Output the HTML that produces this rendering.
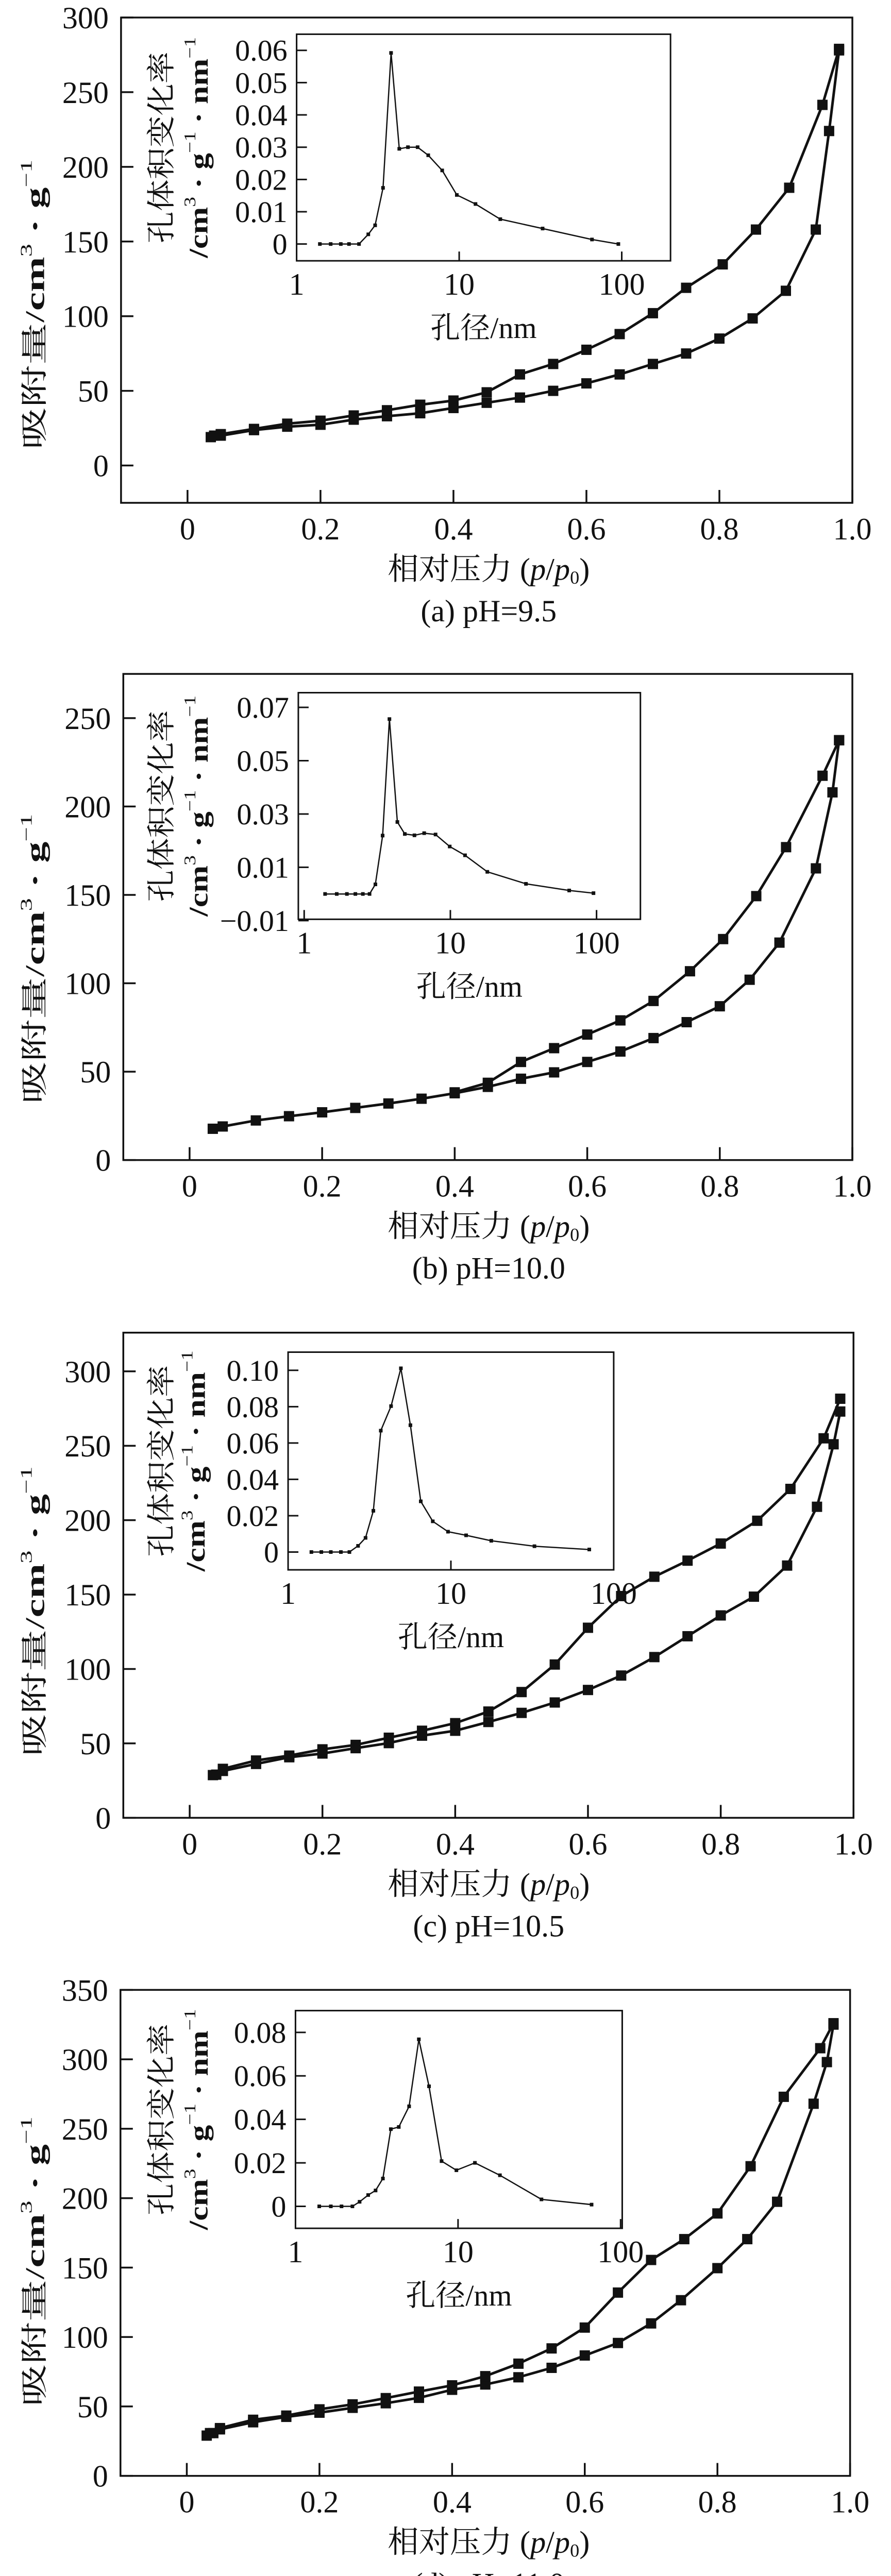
<!DOCTYPE html>
<html><head><meta charset="utf-8">
<style>
html,body{margin:0;padding:0;background:#fff;overflow:hidden;width:1729px;height:5064px;}
svg{display:block;}
text{font-family:"Liberation Serif","Noto Serif CJK SC","Noto Sans CJK SC",serif;fill:#111;}
</style></head>
<body>
<svg id="fig" xmlns="http://www.w3.org/2000/svg" width="1729" height="5064" viewBox="0 0 1729 5064" overflow="hidden"></svg>
<script>
// ---------- data (panel a: pH=9.5) ----------
const aAdsX=[0.035,0.05,0.1,0.15,0.2,0.25,0.3,0.35,0.4,0.45,0.5,0.55,0.6,0.65,0.7,0.75,0.8,0.85,0.9,0.945,0.965,0.98];
const aAdsY=[19,20,23.7,26,27.3,30.7,33,35,38.5,42,45.5,50,55,61,68,75,85,98.5,117,158,224,278];
const aDesX=[0.98,0.955,0.905,0.855,0.805,0.75,0.7,0.65,0.6,0.55,0.5,0.45,0.4,0.35,0.3,0.25,0.2,0.15,0.1,0.05,0.04];
const aDesY=[279,241.5,186,158,134.7,119,102,88,77.5,68,61,49,43.5,40.7,37,33.5,30,28,24.5,21,20];
const aPoreD=[1.39,1.62,1.87,2.1,2.42,2.76,3.04,3.4,3.81,4.28,4.84,5.55,6.45,7.86,9.67,12.6,17.9,32.6,65.6,95.3];
const aPoreV=[0,0,0,0,0,0.003,0.0058,0.0174,0.0592,0.0295,0.030,0.030,0.0275,0.0228,0.0152,0.0124,0.0077,0.0048,0.0014,0];
// ---------- panel b: pH=10.0 ----------
const bAdsX=[0.035,0.05,0.1,0.15,0.2,0.25,0.3,0.35,0.4,0.45,0.5,0.55,0.6,0.65,0.7,0.75,0.8,0.845,0.89,0.945,0.97,0.98];
const bAdsY=[17.7,19,22.4,24.8,27,29.5,32,34.7,37.8,41.4,46,49.6,55.5,61.4,69,78,87,102,123,165,208,237.5];
const bDesX=[0.98,0.955,0.9,0.855,0.805,0.755,0.7,0.65,0.6,0.55,0.5,0.45,0.4];
const bDesY=[237.5,217.4,177,149.3,125,106.8,90,79,71,63.3,55.5,43.7,38.3];
const bPoreD=[1.39,1.67,1.96,2.24,2.52,2.8,3.07,3.44,3.83,4.34,4.88,5.68,6.62,7.92,9.9,12.6,17.9,32.9,65,95.3];
const bPoreV=[0,0,0,0,0,0,0.0036,0.0219,0.0656,0.027,0.0225,0.022,0.0228,0.0223,0.0178,0.0145,0.0083,0.0038,0.0013,0.0003];
// ---------- panel c: pH=10.5 ----------
const cAdsX=[0.035,0.05,0.1,0.15,0.2,0.25,0.3,0.35,0.4,0.45,0.5,0.55,0.6,0.65,0.7,0.75,0.8,0.85,0.9,0.945,0.97,0.98];
const cAdsY=[28.7,31.5,36.2,40.7,43.2,46.8,50.2,55.2,58.5,64.4,70.5,77.5,85.9,95.6,108,122,136,148.6,169.5,209,251,273];
const cDesX=[0.98,0.955,0.905,0.855,0.8,0.75,0.7,0.65,0.6,0.55,0.5,0.45,0.4,0.35,0.3,0.25,0.2,0.15,0.1,0.05,0.04];
const cDesY=[281.6,255,221,199.6,184.3,172.8,162,149,127.7,103,84.5,71.4,63.6,58.5,53.8,49,46,41.8,38.5,32.9,29];
const cPoreD=[1.39,1.6,1.83,2.11,2.38,2.69,2.99,3.34,3.71,4.29,4.93,5.64,6.53,7.74,9.6,12.4,17.7,32.6,70.8];
const cPoreV=[0,0,0,0,0,0.0034,0.0078,0.0227,0.0668,0.0803,0.1011,0.0698,0.0279,0.0169,0.0112,0.0092,0.0062,0.0032,0.0014];
// ---------- panel d: pH=11.0 ----------
const dAdsX=[0.03,0.04,0.05,0.1,0.15,0.2,0.25,0.3,0.35,0.4,0.45,0.5,0.55,0.6,0.65,0.7,0.745,0.8,0.845,0.89,0.945,0.965,0.975];
const dAdsY=[29,30.8,33.5,38.6,42.5,45.5,49,52.3,56.2,62,65.8,71,77.8,86.7,95.7,109.8,126.5,149.6,170.5,197.4,268,298,325];
const dDesX=[0.975,0.955,0.9,0.85,0.8,0.75,0.7,0.65,0.6,0.55,0.5,0.45,0.4,0.35,0.3,0.25,0.2,0.15,0.1,0.05,0.035];
const dDesY=[326,308,273,223,189,170.5,155.5,132,106.8,91.8,80.8,71.8,65.2,60.7,56,51.5,47.9,43.4,40.4,34.4,30.8];
const dPoreD=[1.4,1.65,1.92,2.24,2.48,2.8,3.11,3.45,3.86,4.32,5.0,5.74,6.63,7.92,9.77,12.7,18.1,32.6,66.3];
const dPoreV=[0,0,0,0,0.0021,0.0052,0.0073,0.0128,0.0355,0.0365,0.046,0.0768,0.0552,0.0208,0.0166,0.0200,0.0143,0.0032,0.0008];
// ---------- tick labels ----------
const xTicks=[0,0.2,0.4,0.6,0.8,1.0];
const xTickLabels=["0","0.2","0.4","0.6","0.8","1.0"];
const aYTicks=[0,50,100,150,200,250,300];
const bYTicks=[0,50,100,150,200,250];
const cYTicks=[0,50,100,150,200,250,300];
const dYTicks=[0,50,100,150,200,250,300,350];
const insetXTicks=[1,10,100];
const aInsetYTicks=[0,0.01,0.02,0.03,0.04,0.05,0.06];
const aInsetYLabels=["0","0.01","0.02","0.03","0.04","0.05","0.06"];
const bInsetYTicks=[-0.01,0.01,0.03,0.05,0.07];
const bInsetYLabels=["\u22120.01","0.01","0.03","0.05","0.07"];
const cInsetYTicks=[0,0.02,0.04,0.06,0.08,0.10];
const cInsetYLabels=["0","0.02","0.04","0.06","0.08","0.10"];
const dInsetYTicks=[0,0.02,0.04,0.06,0.08];
const dInsetYLabels=["0","0.02","0.04","0.06","0.08"];
const captions=["(a) pH=9.5","(b) pH=10.0","(c) pH=10.5","(d) pH=11.0"];

const NS="http://www.w3.org/2000/svg";
const svg=document.getElementById('fig');
function el(tag,attrs,parent){const e=document.createElementNS(NS,tag);for(const k in attrs)e.setAttribute(k,attrs[k]);(parent||svg).appendChild(e);return e;}

const SX=1729/1568;
const panels=[
 {id:'a',off:0,sy:1270/1568,box:[213,1500,42,1205],yr:[-25,300],yT:aYTicks,ads:[aAdsX,aAdsY],des:[aDesX,aDesY],
  ins:{box:[522,1180,82,625],xr:[0,2.30],yr:[-0.0052,0.065],yT:aInsetYTicks,yL:aInsetYLabels,d:aPoreD,v:aPoreV,t1:-237,t2:-172}},
 {id:'b',off:1270,sy:1270/1568,box:[217,1500,47,1212],yr:[0,275],yT:bYTicks,ads:[bAdsX,bAdsY],des:[bDesX,bDesY],
  ins:{box:[525,1127,92,635],xr:[-0.04,2.30],yr:[-0.0095,0.0755],yT:bInsetYTicks,yL:bInsetYLabels,d:bPoreD,v:bPoreV,t1:-240,t2:-175}},
 {id:'c',off:2540,sy:1262/1568,box:[217,1502,58,1228],yr:[0,326],yT:cYTicks,ads:[cAdsX,cAdsY],des:[cDesX,cDesY],
  ins:{box:[507,1080,105,630],xr:[0,2.0],yr:[-0.0098,0.110],yT:cInsetYTicks,yL:cInsetYLabels,d:cPoreD,v:cPoreV,t1:-222,t2:-162}},
 {id:'d',off:3802,sy:1262/1568,box:[212,1496,75,1247],yr:[0,350],yT:dYTicks,ads:[dAdsX,dAdsY],des:[dDesX,dDesY],
  ins:{box:[520,1095,125,650],xr:[0,2.01],yr:[-0.0101,0.090],yT:dInsetYTicks,yL:dInsetYLabels,d:dPoreD,v:dPoreV,t1:-235,t2:-170}}
];

panels.forEach((p,pi)=>{
  const X=z=>z*SX, Y=z=>z*p.sy+p.off;
  const L=X(p.box[0]),R=X(p.box[1]),T=Y(p.box[2]),B=Y(p.box[3]);
  const xs=v=>L+(v+0.1)/1.1*(R-L);
  const ys=v=>B-(v-p.yr[0])/(p.yr[1]-p.yr[0])*(B-T);
  const g=el('g',{});
  
  
  const frame=el('rect',{x:L,y:T,width:R-L,height:B-T,fill:'none',stroke:'#111','stroke-width':3.5},g);
  
  
  xTicks.forEach((t,i)=>{
    const x=xs(t);
    const tk=el('line',{x1:x,x2:x,y1:B,y2:B-25,stroke:'#111','stroke-width':3.5},g);
    
    
    const lb=el('text',{x:x,y:B+71,'text-anchor':'middle','font-size':60},g);
    lb.textContent=xTickLabels[i];
    
    
  });
  p.yT.forEach(t=>{
    const y=ys(t);
    const tk=el('line',{x1:L,x2:L+24,y1:y,y2:y,stroke:'#111','stroke-width':3.5},g);
    
    
    const lb=el('text',{x:L-24,y:y+21,'text-anchor':'end','font-size':60},g);
    lb.textContent=String(t);
    
    
  });
  const yt=el('text',{transform:`translate(${X(62)},${Y(730)}) rotate(-90)`,'text-anchor':'middle','dominant-baseline':'central','font-size':52,textLength:563,lengthAdjust:'spacingAndGlyphs'},g);
  yt.innerHTML='吸附量/<tspan font-weight="bold">cm</tspan><tspan font-size="32" dy="-18">3</tspan><tspan dy="18" font-weight="bold"> · g</tspan><tspan font-size="32" dy="-18">−1</tspan>';
  
  
  const xt=el('text',{x:X(860),y:B+149,'text-anchor':'middle','font-size':60,textLength:392,lengthAdjust:'spacingAndGlyphs'},g);
  xt.innerHTML='相对压力 (<tspan font-style="italic">p</tspan>/<tspan font-style="italic">p</tspan><tspan font-size="36" dy="8">0</tspan><tspan dy="-8">)</tspan>';
  
  
  const cap=el('text',{x:X(860),y:B+230,'text-anchor':'middle','font-size':60},g);
  cap.textContent=captions[pi];
  
  
  [[p.ads,'adsorption-branch'],[p.des,'desorption-branch']].forEach(([s,name])=>{
    const pts=s[0].map((x,i)=>xs(x).toFixed(1)+','+ys(s[1][i]).toFixed(1)).join(' ');
    const ln=el('polyline',{points:pts,fill:'none',stroke:'#111','stroke-width':5,'stroke-linejoin':'round'},g);
    
    
    s[0].forEach((x,i)=>{
      const m=el('rect',{x:xs(x)-10,y:ys(s[1][i])-10,width:20,height:20,fill:'#111'},g);
      
      
    });
  });
  const n=p.ins;
  const iL=X(n.box[0]),iR=X(n.box[1]),iT=Y(n.box[2]),iB=Y(n.box[3]);
  const ixs=d=>iL+(Math.log10(d)-n.xr[0])/(n.xr[1]-n.xr[0])*(iR-iL);
  const iys=v=>iB-(v-n.yr[0])/(n.yr[1]-n.yr[0])*(iB-iT);
  const ig=el('g',{},g);
  
  
  const ifr=el('rect',{x:iL,y:iT,width:iR-iL,height:iB-iT,fill:'#fff',stroke:'#111','stroke-width':3},ig);
  
  
  insetXTicks.forEach(t=>{
    const x=ixs(t);
    if(x>iL+2&&x<iR-2){
      const tk=el('line',{x1:x,x2:x,y1:iB,y2:iB-18,stroke:'#111','stroke-width':3},ig);
      
      
    }
    const lb=el('text',{x:x,y:iB+66,'text-anchor':'middle','font-size':60},ig);
    lb.textContent=String(t);
    
    
  });
  n.yT.forEach((t,i)=>{
    const y=iys(t);
    const tk=el('line',{x1:iL,x2:iL+20,y1:y,y2:y,stroke:'#111','stroke-width':3},ig);
    
    
    const lb=el('text',{x:iL-18,y:y+20,'text-anchor':'end','font-size':58},ig);
    lb.textContent=n.yL[i];
    
    
  });
  const ixt=el('text',{x:(iL+iR)/2,y:iB+150,'text-anchor':'middle','font-size':58},ig);
  ixt.textContent='孔径/nm';
  
  
  const cy=(iT+iB)/2;
  const t1=el('text',{transform:`translate(${X(n.box[0]+n.t1)},${cy}) rotate(-90)`,'text-anchor':'middle','dominant-baseline':'central','font-size':56,textLength:372,lengthAdjust:'spacingAndGlyphs'},ig);
  t1.textContent='孔体积变化率';
  
  
  const t2=el('text',{transform:`translate(${X(n.box[0]+n.t2)},${cy}) rotate(-90)`,'text-anchor':'middle','dominant-baseline':'central','font-size':52,'font-weight':'bold',textLength:429,lengthAdjust:'spacingAndGlyphs'},ig);
  t2.innerHTML='/cm<tspan font-size="32" font-weight="normal" dy="-18">3</tspan><tspan dy="18"> · g</tspan><tspan font-size="32" font-weight="normal" dy="-18">−1</tspan><tspan dy="18"> · nm</tspan><tspan font-size="32" font-weight="normal" dy="-18">−1</tspan>';
  
  
  const ipts=n.d.map((d,i)=>ixs(d).toFixed(1)+','+iys(n.v[i]).toFixed(1)).join(' ');
  const il=el('polyline',{points:ipts,fill:'none',stroke:'#111','stroke-width':2.5,'stroke-linejoin':'round'},ig);
  
  
  n.d.forEach((d,i)=>{
    const m=el('rect',{x:ixs(d)-3.5,y:iys(n.v[i])-3.5,width:7,height:7,fill:'#111'},ig);
    
    
  });
});
</script>
</body></html>
